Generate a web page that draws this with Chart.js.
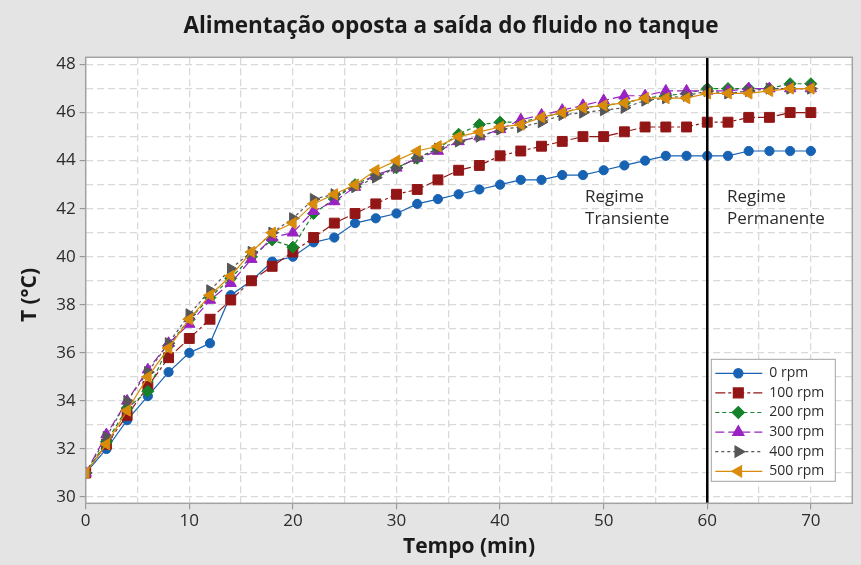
<!DOCTYPE html>
<html lang="pt">
<head>
<meta charset="utf-8">
<title>Alimentação oposta a saída do fluido no tanque</title>
<script src="https://cdn.jsdelivr.net/npm/chart.js@4.4.1/dist/chart.umd.min.js"></script>
<style>
    body {
        margin: 0;
        background: #e4e4e4;
        font-family: "Open Sans", Arial, sans-serif;
    }
    #wrap {
        width: 861px;
        height: 565px;
    }
</style>
</head>
<body>
<div id="wrap"><canvas id="chart"></canvas></div>
<script>
    // time axis (min)
    const minutes = [0, 2, 4, 6, 8, 10, 12, 14, 16, 18, 20, 22, 24, 26, 28, 30, 32, 34,
                     36, 38, 40, 42, 44, 46, 48, 50, 52, 54, 56, 58, 60, 62, 64, 66, 68, 70];

    // temperature (°C) per agitation speed
    const rpm0   = [31.0, 32.0, 33.2, 34.2, 35.2, 36.0, 36.4, 38.4, 39.0, 39.8, 40.0, 40.6, 40.8, 41.4, 41.6, 41.8, 42.2, 42.4,
                    42.6, 42.8, 43.0, 43.2, 43.2, 43.4, 43.4, 43.6, 43.8, 44.0, 44.2, 44.2, 44.2, 44.2, 44.4, 44.4, 44.4, 44.4];
    const rpm100 = [31.0, 32.2, 33.4, 34.6, 35.8, 36.6, 37.4, 38.2, 39.0, 39.6, 40.2, 40.8, 41.4, 41.8, 42.2, 42.6, 42.8, 43.2,
                    43.6, 43.8, 44.2, 44.4, 44.6, 44.8, 45.0, 45.0, 45.2, 45.4, 45.4, 45.4, 45.6, 45.6, 45.8, 45.8, 46.0, 46.0];
    const rpm200 = [31.0, 32.3, 33.7, 34.4, 36.3, 37.4, 38.3, 39.1, 40.0, 40.7, 40.4, 41.8, 42.4, 43.0, 43.4, 43.7, 44.1, 44.5,
                    45.1, 45.5, 45.6, 45.6, 45.8, 46.0, 46.2, 46.3, 46.4, 46.6, 46.7, 46.8, 47.0, 47.0, 47.0, 47.0, 47.2, 47.2];
    const rpm300 = [31.0, 32.6, 34.0, 35.3, 36.4, 37.2, 38.2, 38.9, 39.9, 40.8, 41.0, 41.9, 42.3, 42.9, 43.4, 43.7, 44.1, 44.4,
                    44.8, 45.0, 45.3, 45.7, 45.9, 46.1, 46.3, 46.5, 46.7, 46.7, 46.9, 46.9, 46.9, 46.9, 47.0, 47.0, 47.0, 47.0];
    const rpm400 = [31.0, 32.5, 34.0, 35.2, 36.4, 37.6, 38.6, 39.5, 40.2, 41.0, 41.6, 42.4, 42.6, 42.9, 43.3, 43.7, 44.1, 44.5,
                    44.8, 45.0, 45.3, 45.4, 45.6, 45.9, 46.0, 46.1, 46.2, 46.5, 46.6, 46.7, 46.9, 46.8, 46.9, 47.0, 47.0, 47.0];
    const rpm500 = [31.0, 32.2, 33.6, 35.0, 36.2, 37.4, 38.4, 39.2, 40.2, 41.0, 41.4, 42.2, 42.6, 43.0, 43.6, 44.0, 44.4, 44.6,
                    45.0, 45.2, 45.4, 45.5, 45.8, 46.0, 46.2, 46.3, 46.4, 46.6, 46.6, 46.6, 46.8, 46.8, 46.8, 46.9, 47.0, 47.0];

    const seriesLabels = ['0 rpm', '100 rpm', '200 rpm', '300 rpm', '400 rpm', '500 rpm'];
    const seriesValues = [rpm0, rpm100, rpm200, rpm300, rpm400, rpm500];

    const chartTitle = 'Alimentação oposta a saída do fluido no tanque';
    const regimeLine = 60;
    const regimeNotes = [
        { x: 48.2, lines: ['Regime', 'Transiente'] },
        { x: 61.9, lines: ['Regime', 'Permanente'] }
    ];

    const styles = [
        { color: '#1862b3', pointStyle: 'circle',   radius: 4.6, rotation: 0,   dash: [] },
        { color: '#931616', pointStyle: 'rect',     radius: 7,   rotation: 0,   dash: [10, 3, 3, 3] },
        { color: '#15822a', pointStyle: 'rectRot',  radius: 6,   rotation: 0,   dash: [4, 3] },
        { color: '#9a22c2', pointStyle: 'triangle', radius: 6.5, rotation: 0,   dash: [9, 4] },
        { color: '#565656', pointStyle: 'triangle', radius: 6.5, rotation: 90,  dash: [3, 3] },
        { color: '#d98c0c', pointStyle: 'triangle', radius: 6.5, rotation: -90, dash: [] }
    ];

    const FONT = '"Open Sans", Arial, sans-serif';
    const TEXT = '#2b2b2b';

    const datasets = seriesValues.map((vals, i) => ({
        label: seriesLabels[i],
        data: minutes.map((m, j) => ({ x: m, y: vals[j] })),
        order: seriesValues.length - i, // later series on top
        borderColor: styles[i].color,
        backgroundColor: styles[i].color,
        pointBackgroundColor: styles[i].color,
        pointBorderColor: styles[i].color,
        pointStyle: styles[i].pointStyle,
        pointRadius: styles[i].radius,
        pointRotation: styles[i].rotation,
        pointBorderWidth: 1,
        borderWidth: 1.2,
        borderDash: styles[i].dash,
        tension: 0
    }));

    // grey page, white plot area, frame, titles
    const background = {
        id: 'background',
        beforeDraw(chart) {
            const { ctx, chartArea: a } = chart;
            ctx.save();
            ctx.fillStyle = '#e4e4e4';
            ctx.fillRect(0, 0, chart.width, chart.height);
            ctx.fillStyle = '#ffffff';
            ctx.fillRect(a.left, a.top, a.right - a.left, a.bottom - a.top);
            ctx.restore();
        },
        afterDraw(chart) {
            const { ctx, chartArea: a } = chart;
            ctx.save();
            ctx.strokeStyle = '#a3a3a3';
            ctx.lineWidth = 1.5;
            ctx.strokeRect(a.left, a.top, a.right - a.left, a.bottom - a.top);

            ctx.fillStyle = '#1a1a1a';
            ctx.textAlign = 'center';
            ctx.textBaseline = 'middle';
            ctx.font = 'bold 22.5px ' + FONT;
            ctx.fillText(chartTitle, 451, 27);

            ctx.translate(30, 295);
            ctx.rotate(-Math.PI / 2);
            ctx.font = 'bold 21px ' + FONT;
            ctx.fillText('T (°C)', 0, 0);
            ctx.restore();
        }
    };

    // vertical line at 60 min + regime notes
    const regimes = {
        id: 'regimes',
        afterDatasetsDraw(chart) {
            const { ctx, chartArea: a, scales: { x, y } } = chart;
            ctx.save();
            const px = x.getPixelForValue(regimeLine);
            ctx.strokeStyle = '#000';
            ctx.lineWidth = 2.5;
            ctx.beginPath();
            ctx.moveTo(px, a.top);
            ctx.lineTo(px, a.bottom);
            ctx.stroke();

            ctx.fillStyle = TEXT;
            ctx.font = '17px ' + FONT;
            ctx.textAlign = 'left';
            ctx.textBaseline = 'middle';
            regimeNotes.forEach(n => {
                ctx.fillText(n.lines[0], x.getPixelForValue(n.x), y.getPixelForValue(42.5));
                ctx.fillText(n.lines[1], x.getPixelForValue(n.x), y.getPixelForValue(41.55));
            });
            ctx.restore();
        }
    };

    // boxed legend with line + marker samples
    const legendBox = {
        id: 'legendBox',
        afterDraw(chart) {
            const { ctx, chartArea: a } = chart;
            const w = 124, h = 122;
            const x0 = a.right - 17 - w;
            const y0 = a.bottom - 22 - h;
            ctx.save();
            ctx.fillStyle = '#fff';
            ctx.fillRect(x0, y0, w, h);
            ctx.strokeStyle = '#a3a3a3';
            ctx.lineWidth = 1;
            ctx.strokeRect(x0, y0, w, h);

            chart.data.datasets.forEach((ds, i) => {
                const yy = y0 + 14 + i * 19.6;
                ctx.strokeStyle = ds.borderColor;
                ctx.lineWidth = ds.borderWidth;
                ctx.setLineDash(ds.borderDash || []);
                ctx.beginPath();
                ctx.moveTo(x0 + 4, yy);
                ctx.lineTo(x0 + 51, yy);
                ctx.stroke();
                ctx.setLineDash([]);
                ctx.fillStyle = ds.pointBackgroundColor;
                Chart.helpers.drawPoint(ctx, {
                    pointStyle: ds.pointStyle,
                    rotation: ds.pointRotation,
                    radius: ds.pointRadius,
                    borderWidth: 1
                }, x0 + 27, yy);

                ctx.fillStyle = TEXT;
                ctx.font = '14px ' + FONT;
                ctx.textAlign = 'left';
                ctx.textBaseline = 'middle';
                ctx.fillText(ds.label, x0 + 58, yy);
            });
            ctx.restore();
        }
    };

    const gridStyle = {
        color: '#d9d9d9',
        lineWidth: 1.3,
        tickLength: 6,
        tickWidth: 1
    };

    new Chart(document.getElementById('chart'), {
        type: 'line',
        data: { datasets },
        options: {
            responsive: true,
            maintainAspectRatio: false,
            animation: false,
            layout: {
                padding: { left: 0, right: 8.7, top: 57.3, bottom: 0 }
            },
            plugins: {
                legend: { display: false },
                tooltip: { enabled: false },
                title: { display: false }
            },
            scales: {
                x: {
                    type: 'linear',
                    min: 0,
                    max: 74,
                    afterFit: s => { s.height = 61.7; },
                    title: {
                        display: true,
                        text: 'Tempo (min)',
                        color: '#1a1a1a',
                        font: { family: FONT, size: 21, weight: 'bold' },
                        padding: { top: 0, bottom: 5.4 }
                    },
                    ticks: {
                        stepSize: 5,
                        includeBounds: false,
                        maxRotation: 0,
                        autoSkip: false,
                        padding: 2,
                        color: TEXT,
                        font: { family: FONT, size: 17 },
                        callback: v => (v % 10 === 0 ? v : '')
                    },
                    grid: Object.assign({}, gridStyle, {
                        tickColor: c => (c.tick && c.tick.value % 10 === 0 ? '#8c8c8c' : 'rgba(0,0,0,0)')
                    }),
                    border: { display: false, dash: [7, 4] }
                },
                y: {
                    min: 29.74,
                    max: 48.3,
                    afterFit: s => { s.width = 85.7; },
                    ticks: {
                        stepSize: 1,
                        includeBounds: false,
                        autoSkip: false,
                        padding: 4,
                        color: TEXT,
                        font: { family: FONT, size: 17 },
                        callback: v => (v % 2 === 0 ? v : '')
                    },
                    grid: Object.assign({}, gridStyle, {
                        tickColor: c => (c.tick && c.tick.value % 2 === 0 ? '#8c8c8c' : 'rgba(0,0,0,0)')
                    }),
                    border: { display: false, dash: [7, 4] }
                }
            }
        },
        plugins: [background, regimes, legendBox]
    });
</script>
</body>
</html>
